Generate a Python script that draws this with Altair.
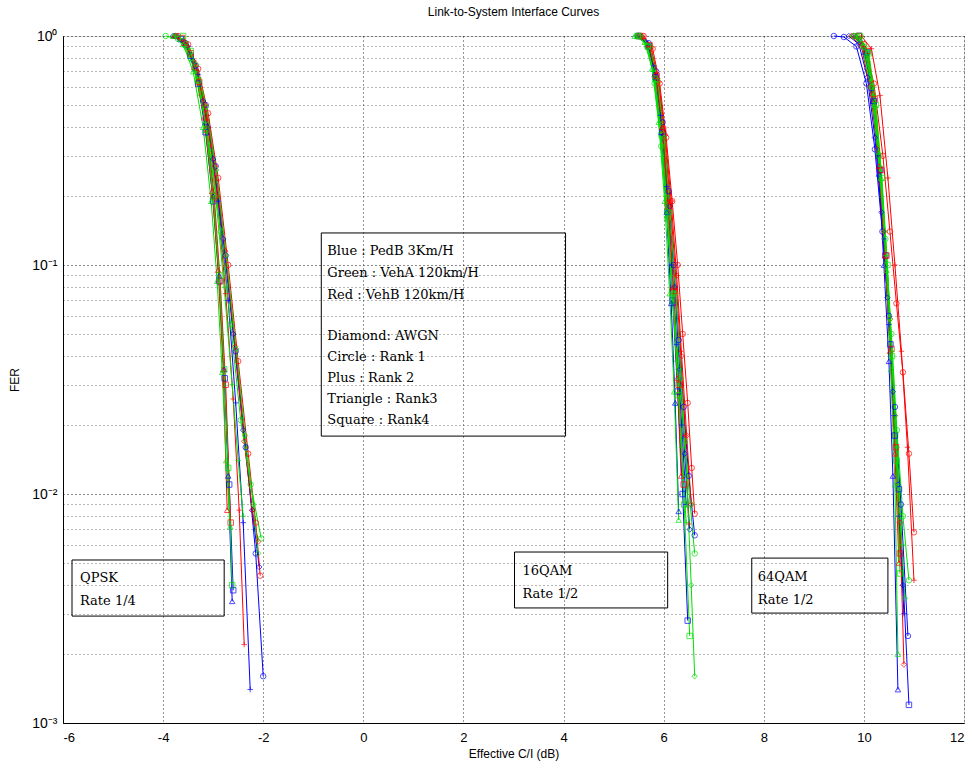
import altair as alt
import pandas as pd

# Each curve: (marker, effective C/I in dB, FER)
QPSK_PEDB = [
    ("circle", [-3.75, -3.55, -3.35, -3.15, -2.95, -2.75, -2.55, -2.35, -2.15, -2.0],
     [1.0, 0.93, 0.74, 0.5, 0.27, 0.11, 0.042, 0.016, 0.0055, 0.0016]),
    ("plus", [-3.7, -3.5, -3.3, -3.1, -2.9, -2.7, -2.55, -2.4, -2.26],
     [1.0, 0.9, 0.68, 0.4, 0.19, 0.07, 0.025, 0.0075, 0.0014]),
    ("triangle", [-3.75, -3.55, -3.35, -3.15, -3.0, -2.88, -2.78, -2.7, -2.62],
     [1.0, 0.92, 0.72, 0.42, 0.2, 0.09, 0.035, 0.012, 0.0034]),
    ("square", [-3.65, -3.45, -3.3, -3.15, -3.0, -2.88, -2.77, -2.68, -2.6],
     [0.97, 0.82, 0.62, 0.38, 0.19, 0.085, 0.032, 0.011, 0.0038]),
    ("diamond", [-3.8, -3.6, -3.4, -3.2, -3.0, -2.8, -2.6, -2.4, -2.22, -2.08],
     [1.0, 0.95, 0.78, 0.52, 0.29, 0.13, 0.05, 0.019, 0.0085, 0.0048]),
]
QPSK_VEHB = [
    ("circle", [-3.7, -3.5, -3.3, -3.1, -2.9, -2.7, -2.5, -2.3, -2.15, -2.06],
     [1.0, 0.92, 0.72, 0.46, 0.24, 0.1, 0.038, 0.015, 0.0075, 0.0044]),
    ("plus", [-3.72, -3.52, -3.32, -3.12, -2.92, -2.75, -2.6, -2.48, -2.38],
     [1.0, 0.91, 0.7, 0.43, 0.2, 0.075, 0.026, 0.0085, 0.0022]),
    ("triangle", [-3.78, -3.58, -3.38, -3.18, -3.02, -2.9, -2.8, -2.72],
     [1.0, 0.93, 0.73, 0.44, 0.21, 0.095, 0.035, 0.0085]),
    ("square", [-3.62, -3.45, -3.28, -3.12, -2.98, -2.86, -2.75, -2.65],
     [0.98, 0.84, 0.63, 0.39, 0.2, 0.085, 0.03, 0.0075]),
    ("diamond", [-3.76, -3.56, -3.36, -3.16, -2.96, -2.76, -2.56, -2.38, -2.22, -2.1],
     [1.0, 0.94, 0.76, 0.5, 0.27, 0.115, 0.044, 0.017, 0.0085, 0.0062]),
]
QPSK_VEHA = [
    ("circle", [-3.95, -3.7, -3.45, -3.25, -3.05, -2.85, -2.65, -2.45, -2.25, -2.04],
     [1.0, 0.97, 0.8, 0.56, 0.31, 0.14, 0.055, 0.021, 0.011, 0.0064]),
    ("plus", [-3.75, -3.55, -3.35, -3.15, -2.95, -2.78, -2.62, -2.5, -2.4],
     [1.0, 0.9, 0.7, 0.42, 0.2, 0.08, 0.03, 0.014, 0.008]),
    ("triangle", [-3.8, -3.6, -3.4, -3.2, -3.04, -2.92, -2.82, -2.74, -2.66],
     [1.0, 0.92, 0.7, 0.4, 0.19, 0.085, 0.034, 0.014, 0.0072]),
    ("square", [-3.6, -3.45, -3.3, -3.14, -3.0, -2.88, -2.78, -2.7, -2.62],
     [1.0, 0.86, 0.64, 0.39, 0.2, 0.09, 0.035, 0.013, 0.004]),
    ("diamond", [-3.74, -3.54, -3.34, -3.14, -2.94, -2.74, -2.54, -2.36, -2.2, -2.1],
     [1.0, 0.93, 0.75, 0.49, 0.26, 0.11, 0.043, 0.018, 0.009, 0.0055]),
]

QAM16_PEDB = [
    ("circle", [5.5, 5.7, 5.85, 5.98, 6.1, 6.2, 6.3, 6.4, 6.5, 6.62],
     [1.0, 0.93, 0.7, 0.42, 0.21, 0.1, 0.047, 0.024, 0.012, 0.0066]),
    ("plus", [5.45, 5.65, 5.8, 5.94, 6.06, 6.16, 6.26, 6.36, 6.45],
     [1.0, 0.95, 0.74, 0.45, 0.22, 0.1, 0.045, 0.02, 0.009]),
    ("triangle", [5.48, 5.68, 5.82, 5.95, 6.06, 6.15, 6.23, 6.3],
     [1.0, 0.92, 0.68, 0.38, 0.17, 0.068, 0.025, 0.0084]),
    ("square", [5.5, 5.7, 5.84, 5.97, 6.08, 6.18, 6.28, 6.38, 6.48],
     [1.0, 0.9, 0.66, 0.38, 0.17, 0.07, 0.028, 0.01, 0.0028]),
    ("diamond", [5.55, 5.72, 5.87, 6.0, 6.12, 6.22, 6.32, 6.42, 6.52],
     [1.0, 0.9, 0.65, 0.37, 0.18, 0.08, 0.035, 0.015, 0.007]),
]
QAM16_VEHB = [
    ("circle", [5.6, 5.78, 5.92, 6.05, 6.17, 6.28, 6.38, 6.48, 6.56, 6.62],
     [1.0, 0.88, 0.62, 0.36, 0.19, 0.1, 0.05, 0.025, 0.013, 0.0082]),
    ("plus", [5.55, 5.73, 5.88, 6.01, 6.13, 6.24, 6.34, 6.43, 6.5],
     [1.0, 0.9, 0.65, 0.38, 0.19, 0.09, 0.042, 0.018, 0.0074]),
    ("triangle", [5.5, 5.7, 5.84, 5.97, 6.08, 6.18, 6.27, 6.35],
     [1.0, 0.92, 0.68, 0.4, 0.19, 0.08, 0.032, 0.012]),
    ("square", [5.52, 5.72, 5.86, 5.99, 6.1, 6.2, 6.3, 6.4],
     [1.0, 0.91, 0.67, 0.39, 0.18, 0.077, 0.03, 0.011]),
    ("diamond", [5.58, 5.75, 5.9, 6.03, 6.15, 6.26, 6.36, 6.46, 6.55],
     [1.0, 0.89, 0.63, 0.37, 0.19, 0.09, 0.04, 0.018, 0.009]),
]
QAM16_VEHA = [
    ("circle", [5.5, 5.68, 5.82, 5.95, 6.07, 6.18, 6.3, 6.42, 6.53, 6.62],
     [1.0, 0.9, 0.62, 0.33, 0.16, 0.075, 0.035, 0.017, 0.009, 0.0055]),
    ("plus", [5.45, 5.64, 5.79, 5.92, 6.04, 6.15, 6.26, 6.36, 6.45],
     [1.0, 0.93, 0.7, 0.42, 0.2, 0.09, 0.038, 0.016, 0.0075]),
    ("triangle", [5.42, 5.62, 5.77, 5.9, 6.02, 6.12, 6.21, 6.3],
     [1.0, 0.94, 0.72, 0.42, 0.19, 0.075, 0.028, 0.0077]),
    ("square", [5.48, 5.68, 5.83, 5.96, 6.08, 6.19, 6.3, 6.41, 6.52],
     [1.0, 0.9, 0.65, 0.37, 0.17, 0.07, 0.027, 0.009, 0.0024]),
    ("diamond", [5.55, 5.73, 5.88, 6.01, 6.13, 6.24, 6.35, 6.46, 6.55, 6.62],
     [1.0, 0.9, 0.64, 0.36, 0.17, 0.075, 0.032, 0.012, 0.004, 0.0016]),
]

QAM64_PEDB = [
    ("circle", [9.4, 9.6, 9.85, 10.05, 10.22, 10.37, 10.5, 10.62, 10.74, 10.88],
     [1.0, 0.99, 0.9, 0.62, 0.32, 0.14, 0.06, 0.024, 0.009, 0.0024]),
    ("plus", [9.8, 10.0, 10.15, 10.28, 10.4, 10.5, 10.6, 10.7, 10.8],
     [1.0, 0.88, 0.58, 0.3, 0.13, 0.055, 0.022, 0.008, 0.003]),
    ("triangle", [9.85, 10.03, 10.18, 10.3, 10.4, 10.5, 10.58, 10.68],
     [1.0, 0.85, 0.52, 0.25, 0.1, 0.038, 0.012, 0.0014]),
    ("square", [9.9, 10.06, 10.2, 10.32, 10.43, 10.53, 10.62, 10.7, 10.9],
     [1.0, 0.85, 0.52, 0.26, 0.11, 0.045, 0.018, 0.0105, 0.0012]),
    ("diamond", [9.7, 9.9, 10.07, 10.22, 10.35, 10.47, 10.58, 10.68, 10.78],
     [1.0, 0.92, 0.66, 0.36, 0.17, 0.072, 0.028, 0.011, 0.004]),
]
QAM64_VEHB = [
    ("circle", [9.8, 10.0, 10.2, 10.38, 10.52, 10.65, 10.78, 10.9, 11.0],
     [1.0, 0.92, 0.62, 0.3, 0.14, 0.068, 0.034, 0.015, 0.0068]),
    ("plus", [9.95, 10.15, 10.32, 10.48, 10.62, 10.75, 10.87, 11.0],
     [1.0, 0.88, 0.55, 0.24, 0.1, 0.042, 0.016, 0.0042]),
    ("triangle", [9.85, 10.03, 10.18, 10.3, 10.42, 10.52, 10.62, 10.7],
     [1.0, 0.88, 0.56, 0.27, 0.11, 0.042, 0.015, 0.005]),
    ("square", [9.9, 10.08, 10.22, 10.34, 10.45, 10.55, 10.64, 10.72],
     [1.0, 0.86, 0.53, 0.26, 0.11, 0.043, 0.016, 0.0055]),
    ("diamond", [9.75, 9.95, 10.12, 10.27, 10.4, 10.52, 10.62, 10.72, 10.8],
     [1.0, 0.9, 0.6, 0.32, 0.14, 0.058, 0.022, 0.0075, 0.0018]),
]
QAM64_VEHA = [
    ("circle", [9.8, 10.0, 10.16, 10.3, 10.43, 10.55, 10.66, 10.78, 10.9],
     [1.0, 0.9, 0.6, 0.3, 0.13, 0.05, 0.019, 0.008, 0.0042]),
    ("plus", [9.85, 10.04, 10.2, 10.33, 10.45, 10.56, 10.66, 10.76],
     [1.0, 0.87, 0.55, 0.27, 0.11, 0.042, 0.016, 0.006]),
    ("triangle", [9.9, 10.07, 10.22, 10.34, 10.45, 10.54, 10.62, 10.68],
     [1.0, 0.85, 0.5, 0.24, 0.095, 0.035, 0.011, 0.002]),
    ("square", [9.92, 10.1, 10.24, 10.36, 10.47, 10.56, 10.65, 10.72],
     [1.0, 0.84, 0.5, 0.24, 0.1, 0.04, 0.014, 0.0045]),
    ("diamond", [9.78, 9.97, 10.14, 10.28, 10.41, 10.52, 10.62, 10.72, 10.82],
     [1.0, 0.9, 0.6, 0.31, 0.14, 0.058, 0.022, 0.008, 0.0035]),
]

CHANNELS = ["PedB", "VehA", "VehB"]
CHANNEL_COLORS = ["#0000ff", "#00e000", "#ff0000"]
MARKERS = ["diamond", "circle", "plus", "triangle", "square"]
MARKER_SHAPES = ["diamond", "circle", "M-1,0L1,0M0,-1L0,1", "triangle-up", "square"]

X_TICKS = [-6, -4, -2, 0, 2, 4, 6, 8, 10, 12]
Y_GRID = [m * d for d in [0.001, 0.01, 0.1] for m in range(1, 10)] + [1.0]

CHANNEL_NOTE = ["Blue : PedB 3Km/H", "Green : VehA 120km/H", "Red : VehB 120km/H"]
MARKER_NOTE = ["Diamond: AWGN", "Circle : Rank 1", "Plus : Rank 2",
               "Triangle : Rank3", "Square : Rank4"]
# annotation boxes: x0, x1, fer_top, fer_bottom
BOXES = [
    (-0.84, 4.04, 0.138, 0.0179),
    (-5.82, -2.78, 0.00515, 0.00293),
    (3.02, 6.08, 0.00558, 0.00318),
    (7.76, 10.48, 0.00525, 0.00302),
]
# annotation text: x, fer of first baseline, line spacing, lines
NOTES = [
    (-0.72, 0.1106, 22, CHANNEL_NOTE),
    (-0.72, 0.0470, 21, MARKER_NOTE),
    (-5.66, 0.00413, 23, ["QPSK", "Rate 1/4"]),
    (3.18, 0.00443, 23, ["16QAM", " Rate 1/2"]),
    (7.88, 0.00417, 23, ["64QAM", "Rate 1/2"]),
]

groups = [
    ("QPSK", "PedB", QPSK_PEDB), ("QPSK", "VehB", QPSK_VEHB), ("QPSK", "VehA", QPSK_VEHA),
    ("16QAM", "PedB", QAM16_PEDB), ("16QAM", "VehB", QAM16_VEHB), ("16QAM", "VehA", QAM16_VEHA),
    ("64QAM", "PedB", QAM64_PEDB), ("64QAM", "VehB", QAM64_VEHB), ("64QAM", "VehA", QAM64_VEHA),
]
rows = []
for mod, ch, curves in groups:
    for marker, xs, fers in curves:
        cid = f"{mod}-{ch}-{marker}"
        for i, (x, f) in enumerate(zip(xs, fers)):
            rows.append({"curve": cid, "channel": ch, "marker": marker,
                         "ci": x, "fer": f, "idx": i})
df = pd.DataFrame(rows)

xscale = alt.Scale(domain=[-6, 12], nice=False, zero=False)
yscale = alt.Scale(type="log", domain=[0.001, 1], nice=False)
cscale = alt.Scale(domain=CHANNELS, range=CHANNEL_COLORS)

DECADE = "abs(log(datum.value)/LN10 - round(log(datum.value)/LN10)) < 1e-6"

x_enc = alt.X("ci:Q", scale=xscale, axis=alt.Axis(
    values=X_TICKS, title="Effective C/I (dB)", labelExpr="'' + datum.value",
    grid=True, gridDash=[1, 3], gridColor="#000000", gridOpacity=0.8,
    ticks=False, domainColor="#000000", labelFont="Liberation Sans",
    labelFontSize=13, labelColor="#000000", labelPadding=8,
    titleFont="Liberation Sans", titleFontSize=12, titleFontWeight="normal",
    titleColor="#000000", titlePadding=4))
y_enc = alt.Y("fer:Q", scale=yscale, axis=alt.Axis(
    values=Y_GRID, title="FER",
    labelExpr=(DECADE + " ? "
               "('10' + (round(log(datum.value)/LN10) == 0 ? '⁰' : "
               "round(log(datum.value)/LN10) == -1 ? '⁻¹' : "
               "round(log(datum.value)/LN10) == -2 ? '⁻²' : '⁻³')) : ''"),
    labelOverlap=False, grid=True, gridDash=[1, 3], gridColor="#000000",
    gridOpacity={"condition": {"test": DECADE, "value": 0.9}, "value": 0.55},
    ticks=False, domainColor="#000000", labelFont="Liberation Sans",
    labelFontSize=14, labelColor="#000000", labelPadding=6,
    titleFont="Liberation Sans", titleFontSize=12, titleFontWeight="normal",
    titleColor="#000000", titlePadding=10))

base = alt.Chart(df)
lines = base.mark_line(strokeWidth=1).encode(
    x=x_enc, y=y_enc,
    color=alt.Color("channel:N", scale=cscale, legend=None),
    detail="curve:N", order="idx:Q")
points = base.mark_point(filled=False, size=30, strokeWidth=1).encode(
    x="ci:Q", y="fer:Q",
    color=alt.Color("channel:N", scale=cscale, legend=None),
    shape=alt.Shape("marker:N", scale=alt.Scale(domain=MARKERS, range=MARKER_SHAPES), legend=None))

box_df = pd.DataFrame([{"x0": b[0], "x1": b[1], "y0": b[2], "y1": b[3]} for b in BOXES])
boxes = alt.Chart(box_df).mark_rect(fillOpacity=0, stroke="#000000", strokeWidth=1).encode(
    x="x0:Q", x2="x1:Q", y="y0:Q", y2="y1:Q")

note_layers = []
for nx, ny, spacing, lines_txt in NOTES:
    note_layers.append(
        alt.Chart(pd.DataFrame([{"x": nx, "y": ny, "t": "\n".join(lines_txt)}]))
        .mark_text(align="left", baseline="alphabetic", font="DejaVu Serif",
                   fontSize=13, lineBreak="\n", lineHeight=spacing, color="#000000")
        .encode(x="x:Q", y="y:Q", text="t:N"))

chart = alt.layer(lines, points, boxes, *note_layers).properties(
    width=901, height=687, autosize="none",
    padding={"left": 63, "top": 36, "right": 8, "bottom": 46},
    title=alt.Title("Link-to-System Interface Curves", font="Liberation Sans",
                    fontSize=12, fontWeight="normal", color="#000000", offset=10),
).configure_view(stroke="#000000", strokeWidth=1).configure(background="#ffffff")

chart.save("out.html", embed_options={"renderer": "svg", "actions": False})
